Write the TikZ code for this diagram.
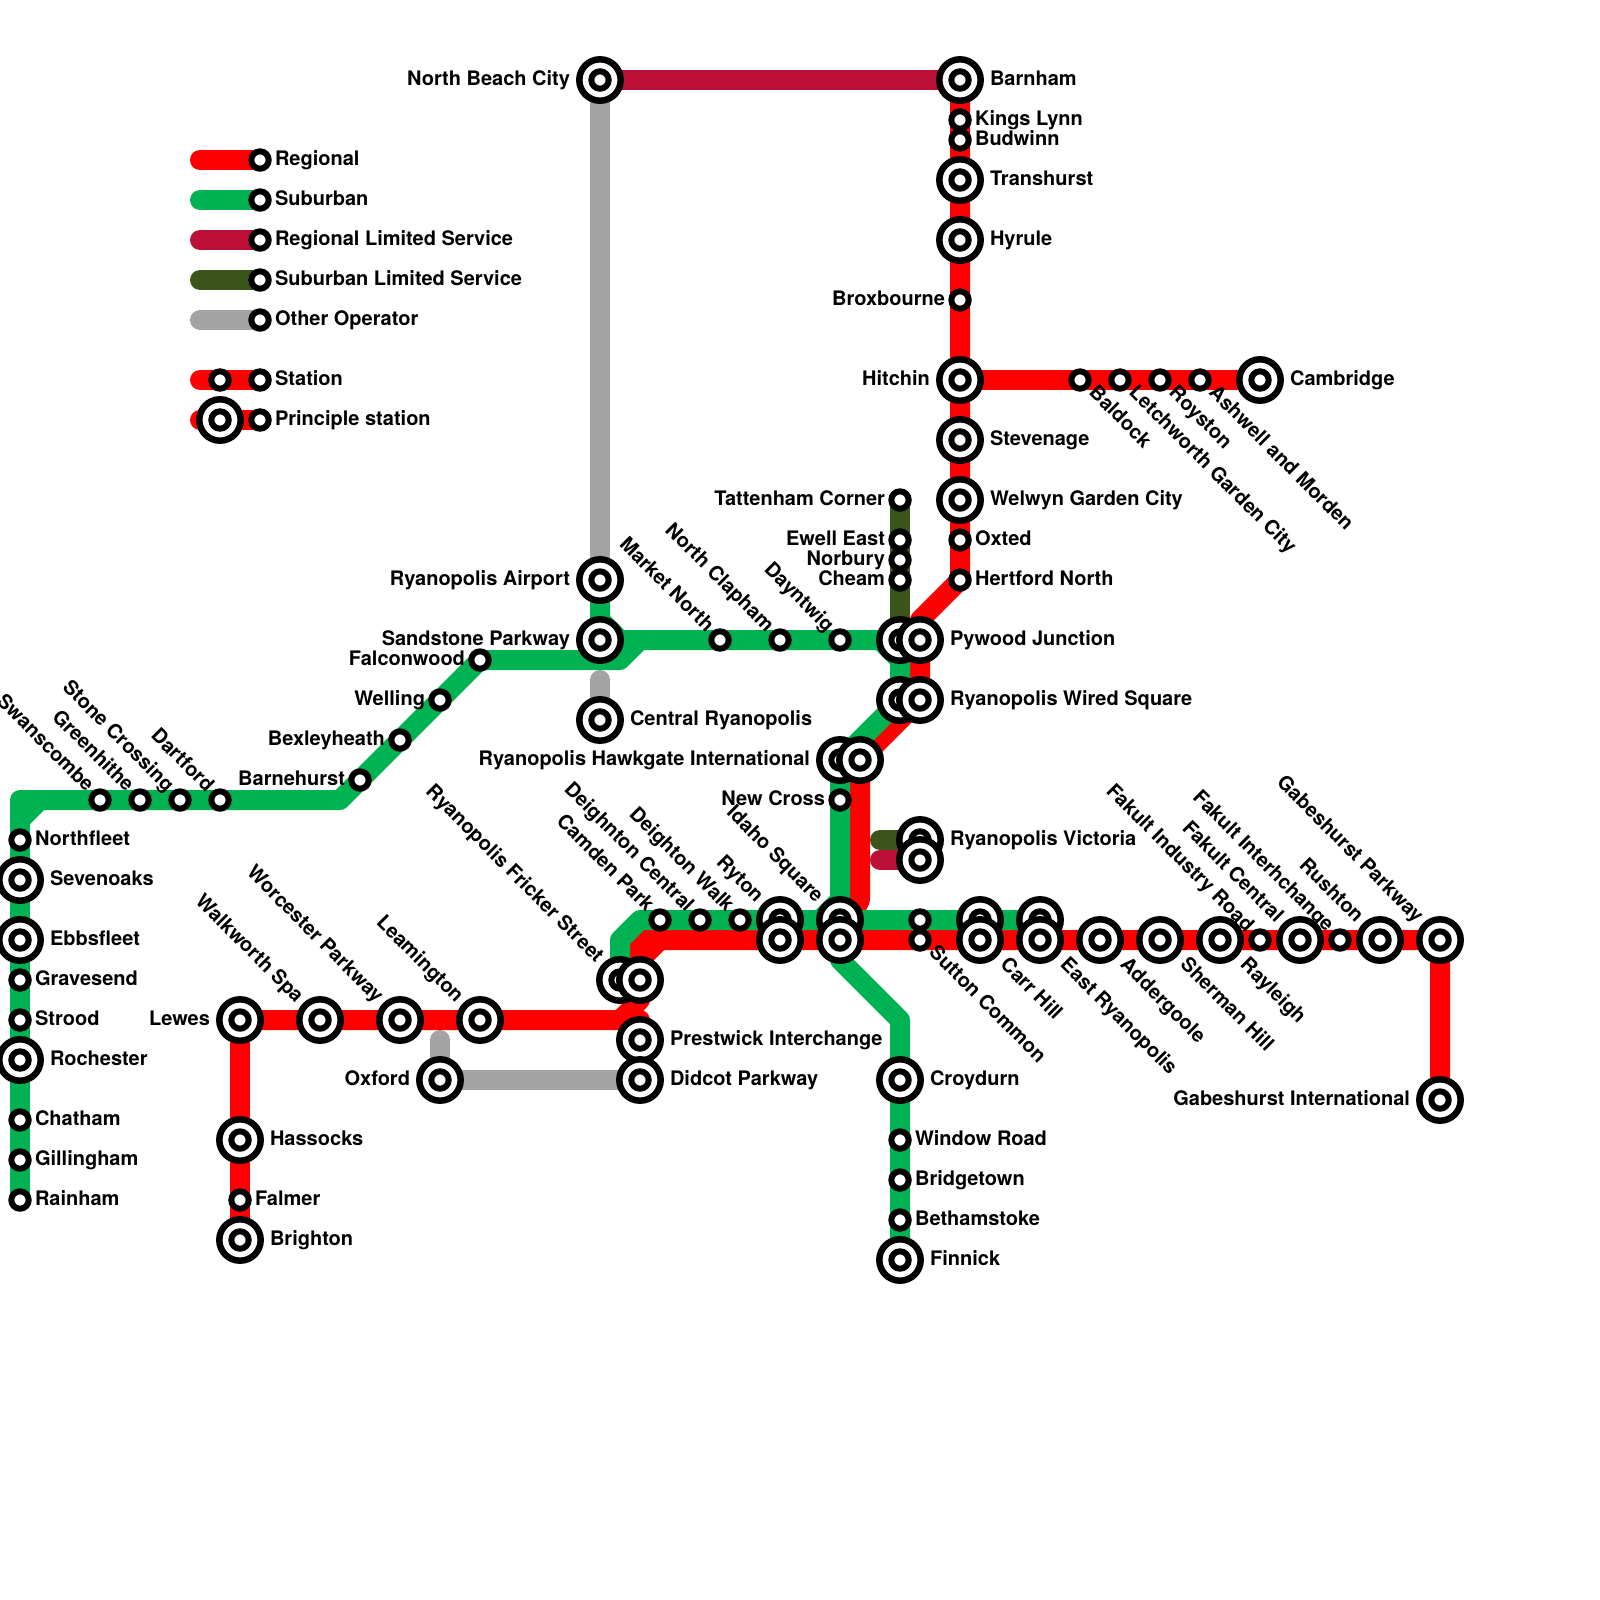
\documentclass[tikz,border=0pt]{standalone}
\usepackage{fontspec}
\setmainfont{TeX Gyre Heros}
\usepackage{tikz}
\definecolor{regionalc}{RGB}{255, 0, 0}
\definecolor{suburbanc}{RGB}{0, 178, 81}
\definecolor{regionallimc}{RGB}{189, 16, 56}
\definecolor{suburbanlimc}{RGB}{59, 85, 27}
\definecolor{otherc}{RGB}{163, 163, 163}
\def\px{0.0125cm}
\pgfdeclarelayer{lines}
\pgfsetlayers{lines,main}
\tikzset{
  metro/.style={line width=20*\px, line cap=round, line join=round},
  regional/.style={metro, draw=regionalc},
  suburban/.style={metro, draw=suburbanc},
  regionallim/.style={metro, draw=regionallimc},
  suburbanlim/.style={metro, draw=suburbanlimc},
  otherop/.style={metro, draw=otherc},
  stnbig/.style={circle, draw=black, fill=white, line width=6.5*\px, minimum size=41.4*\px, inner sep=0pt,
    path picture={\draw[black, line width=6*\px] (path picture bounding box.center) circle (8.7*\px);}},
  stnsmall/.style={circle, draw=black, fill=white, line width=6*\px, minimum size=17.4*\px, inner sep=0pt},
  stnlabel/.style={font=\bfseries\fontsize{7.11}{8.5}\selectfont, inner sep=0pt, text=black},
  bigright/.style={stnlabel, anchor=base west, xshift=29.5*\px, yshift=-5*\px},
  bigleft/.style={stnlabel, anchor=base east, xshift=-29.5*\px, yshift=-5*\px},
  bigup/.style={stnlabel, xshift=-24.1*\px, yshift=16.1*\px, rotate=-45, anchor=base east},
  bigdown/.style={stnlabel, xshift=19*\px, yshift=-25.5*\px, rotate=-45, anchor=base west},
  smallright/.style={stnlabel, anchor=base west, xshift=14.5*\px, yshift=-5*\px},
  smallleft/.style={stnlabel, anchor=base east, xshift=-14.5*\px, yshift=-5*\px},
  smallup/.style={stnlabel, xshift=-13.7*\px, yshift=6.8*\px, rotate=-45, anchor=base east},
  smalldown/.style={stnlabel, xshift=7.8*\px, yshift=-13.5*\px, rotate=-45, anchor=base west},
}
\begin{document}
\begin{tikzpicture}[x=0.5cm, y=-0.5cm]
  \useasboundingbox (0,0) rectangle (40,40);
  % stations hidden behind a neighbour come first
  \foreach \nm/\x/\y in {pywoodg/22.5/16, wiredg/22.5/17.5, carrhillg/24.5/23, eastryang/26/23}
    { \node[stnbig] (\nm) at (\x,\y) {}; }
  \foreach \nm/\x/\y/\lbl/\txt in {
    northbeach/15/2/bigleft/North Beach City, barnham/24/2/bigright/Barnham, transhurst/24/4.5/bigright/Transhurst,
    hyrule/24/6/bigright/Hyrule, hitchin/24/9.5/bigleft/Hitchin, stevenage/24/11/bigright/Stevenage,
    welwyn/24/12.5/bigright/Welwyn Garden City, cambridge/31.5/9.5/bigright/Cambridge,
    airport/15/14.5/bigleft/Ryanopolis Airport, sandstone/15/16/bigleft/Sandstone Parkway,
    centralry/15/18/bigright/Central Ryanopolis, pywood/23/16/bigright/Pywood Junction,
    wired/23/17.5/bigright/Ryanopolis Wired Square, hawkgateg/21/19/bigleft/Ryanopolis Hawkgate International,
    victoriag/23/21/bigright/Ryanopolis Victoria, sevenoaks/0.5/22/bigright/Sevenoaks,
    ebbsfleet/0.5/23.5/bigright/Ebbsfleet, rochester/0.5/26.5/bigright/Rochester, lewes/6/25.5/bigleft/Lewes,
    hassocks/6/28.5/bigright/Hassocks, brighton/6/31/bigright/Brighton, walkworth/8/25.5/bigup/Walkworth Spa,
    worcester/10/25.5/bigup/Worcester Parkway, leamington/12/25.5/bigup/Leamington, oxford/11/27/bigleft/Oxford,
    fricker/15.5/24.5/bigup/Ryanopolis Fricker Street, ryton/19.5/23/bigup/Ryton, idaho/21/23/bigup/Idaho Square,
    prestwick/16/26/bigright/Prestwick Interchange, didcot/16/27/bigright/Didcot Parkway,
    croydurn/22.5/27/bigright/Croydurn, finnick/22.5/31.5/bigright/Finnick,
    fakultcentral/32.5/23.5/bigup/Fakult Central, rushton/34.5/23.5/bigup/Rushton,
    gabeshurstpk/36/23.5/bigup/Gabeshurst Parkway, gabeshurstint/36/27.5/bigleft/Gabeshurst International}
    { \node[stnbig] (\nm) at (\x,\y) {};
      \node[\lbl] (\nm-label) at (\nm.center) {\txt}; }
  % second rings on top of the first ones
  \node[stnbig] (victoria) at (23,21.5) {};
  \node[stnbig] (hawkgate) at (21.5,19) {};
  \node[stnbig] (frickerr) at (16,24.5) {};
  \node[stnbig] (rytonr) at (19.5,23.5) {};
  \node[stnbig] (idahor) at (21,23.5) {};
  \foreach \nm/\x/\y/\lbl/\txt in {
    carrhill/24.5/23.5/bigdown/Carr Hill, eastryan/26/23.5/bigdown/East Ryanopolis,
    addergoole/27.5/23.5/bigdown/Addergoole, shermanhill/29/23.5/bigdown/Sherman Hill, rayleigh/30.5/23.5/bigdown/Rayleigh}
    { \node[stnbig] (\nm) at (\x,\y) {};
      \node[\lbl] (\nm-label) at (\nm.center) {\txt}; }
  \node[stnsmall] (suttonup) at (23,23) {};
  \foreach \nm/\x/\y/\lbl/\txt in {
    kingslynn/24/3/smallright/Kings Lynn, budwinn/24/3.5/smallright/Budwinn, broxbourne/24/7.5/smallleft/Broxbourne,
    oxted/24/13.5/smallright/Oxted, hertford/24/14.5/smallright/Hertford North,
    baldock/27/9.5/smalldown/Baldock, letchworth/28/9.5/smalldown/Letchworth Garden City,
    royston/29/9.5/smalldown/Royston, ashwell/30/9.5/smalldown/Ashwell and Morden,
    tattenham/22.5/12.5/smallleft/Tattenham Corner, ewell/22.5/13.5/smallleft/Ewell East,
    norbury/22.5/14/smallleft/Norbury, cheam/22.5/14.5/smallleft/Cheam,
    marketnorth/18/16/smallup/Market North, northclapham/19.5/16/smallup/North Clapham, dayntwig/21/16/smallup/Dayntwig,
    falconwood/12/16.5/smallleft/Falconwood, welling/11/17.5/smallleft/Welling, bexleyheath/10/18.5/smallleft/Bexleyheath,
    barnehurst/9/19.5/smallleft/Barnehurst, swanscombe/2.5/20/smallup/Swanscombe, greenhithe/3.5/20/smallup/Greenhithe,
    stonecrossing/4.5/20/smallup/Stone Crossing, dartford/5.5/20/smallup/Dartford, newcross/21/20/smallleft/New Cross,
    northfleet/0.5/21/smallright/Northfleet, gravesend/0.5/24.5/smallright/Gravesend, strood/0.5/25.5/smallright/Strood,
    chatham/0.5/28/smallright/Chatham, gillingham/0.5/29/smallright/Gillingham, rainham/0.5/30/smallright/Rainham,
    falmer/6/30/smallright/Falmer, camdenpark/16.5/23/smallup/Camden Park, deightoncentral/17.5/23/smallup/Deighnton Central,
    deightonwalk/18.5/23/smallup/Deighton Walk, suttoncommon/23/23.5/smalldown/Sutton Common,
    fakultind/31.5/23.5/smallup/Fakult Industry Road, fakultinter/33.5/23.5/smallup/Fakult Interhchange,
    windowroad/22.5/28.5/smallright/Window Road, bridgetown/22.5/29.5/smallright/Bridgetown,
    bethamstoke/22.5/30.5/smallright/Bethamstoke,
    keyregional/6.5/4/smallright/Regional, keysuburban/6.5/5/smallright/Suburban,
    keyregionallim/6.5/6/smallright/Regional Limited Service, keysuburbanlim/6.5/7/smallright/Suburban Limited Service,
    keyother/6.5/8/smallright/Other Operator, keystation/6.5/9.5/smallright/Station,
    keyprinciple/6.5/10.5/smallright/Principle station}
    { \node[stnsmall] (\nm) at (\x,\y) {};
      \node[\lbl] (\nm-label) at (\nm.center) {\txt}; }
  \node[stnsmall] (keystationb) at (5.5,9.5) {};
  \node[stnbig] (keyprincipleb) at (5.5,10.5) {};
  % free ends and bends of the lines
  \coordinate (redbendA) at (23,15.5);
  \coordinate (redbendB) at (21.5,22.5);
  \coordinate (redbendC) at (15.5,25.5);
  \coordinate (redbendD) at (16,25);
  \coordinate (redbendE) at (16,25.5);
  \coordinate (redcorner) at (16,23.5);
  \coordinate (redchamA) at (16,24);
  \coordinate (redchamB) at (16.5,23.5);
  \coordinate (grcorner) at (0.5,20);
  \coordinate (grchamA) at (0.5,20.5);
  \coordinate (grchamB) at (1,20);
  \coordinate (grbendA) at (8.5,20);
  \coordinate (grbendB) at (15.5,16.5);
  \coordinate (grbendC) at (16,16);
  \coordinate (grbendD) at (15,15.5);
  \coordinate (grbendE) at (15.5,16);
  \coordinate (grchamC) at (22,16);
  \coordinate (grchamD) at (22.5,16.5);
  \coordinate (grbendF) at (21,22.5);
  \coordinate (grchamE) at (20.5,23);
  \coordinate (grbendG) at (15.5,23.5);
  \coordinate (grbendH) at (16,23);
  \coordinate (grbendI) at (21,24);
  \coordinate (grbendJ) at (22.5,25.5);
  \coordinate (dgstub) at (22,21);
  \coordinate (drstub) at (22,21.5);
  \coordinate (otherstubA) at (15,17);
  \coordinate (otherstubB) at (11,26);
  \coordinate (keyA) at (5,4);
  \coordinate (keyB) at (5,5);
  \coordinate (keyC) at (5,6);
  \coordinate (keyD) at (5,7);
  \coordinate (keyE) at (5,8);
  \coordinate (keyF) at (5,9.5);
  \coordinate (keyG) at (5,10.5);
  \begin{pgfonlayer}{lines}
    \draw[otherop] (northbeach.center) -- (airport.center);
    \draw[otherop] (otherstubA) -- (centralry.center);
    \draw[otherop] (otherstubB) -- (oxford.center) -- (didcot.center);
    \draw[regionallim] (northbeach.center) -- (barnham.center);
    \draw[regionallim] (drstub) -- (victoria.center);
    \draw[suburbanlim] (tattenham.center) -- (pywoodg.center);
    \draw[suburbanlim] (dgstub) -- (victoriag.center);
    \draw[regional] (barnham.center) -- (hertford.center) -- (redbendA) -- (wired.center) -- (hawkgate.center) -- (redbendB) -- (idahor.center);
    \draw[regional] (hitchin.center) -- (cambridge.center);
    \draw[regional] (brighton.center) -- (lewes.center) -- (redbendC) -- (redbendD) -- (redcorner) -- (gabeshurstpk.center) -- (gabeshurstint.center);
    \draw[regional] (redbendC) -- (redbendE) -- (prestwick.center);
    \draw[regional] (redchamA) -- (redchamB);
    \draw[suburban] (rainham.center) -- (grcorner) -- (grbendA) -- (falconwood.center) -- (grbendB) -- (grbendC) -- (pywoodg.center) -- (wiredg.center) -- (hawkgateg.center) -- (grbendF) -- (idaho.center);
    \draw[suburban] (grchamA) -- (grchamB);
    \draw[suburban] (airport.center) -- (grbendD) -- (grbendE) -- (grbendC);
    \draw[suburban] (grchamC) -- (grchamD);
    \draw[suburban] (grbendF) -- (grchamE);
    \draw[suburban] (fricker.center) -- (grbendG) -- (grbendH) -- (eastryang.center);
    \draw[suburban] (idahor.center) -- (grbendI) -- (grbendJ) -- (finnick.center);
    \draw[regional] (keyA) -- (keyregional.center);
    \draw[suburban] (keyB) -- (keysuburban.center);
    \draw[regionallim] (keyC) -- (keyregionallim.center);
    \draw[suburbanlim] (keyD) -- (keysuburbanlim.center);
    \draw[otherop] (keyE) -- (keyother.center);
    \draw[regional] (keyF) -- (keystation.center);
    \draw[regional] (keyG) -- (keyprinciple.center);
  \end{pgfonlayer}
\end{tikzpicture}
\end{document}
